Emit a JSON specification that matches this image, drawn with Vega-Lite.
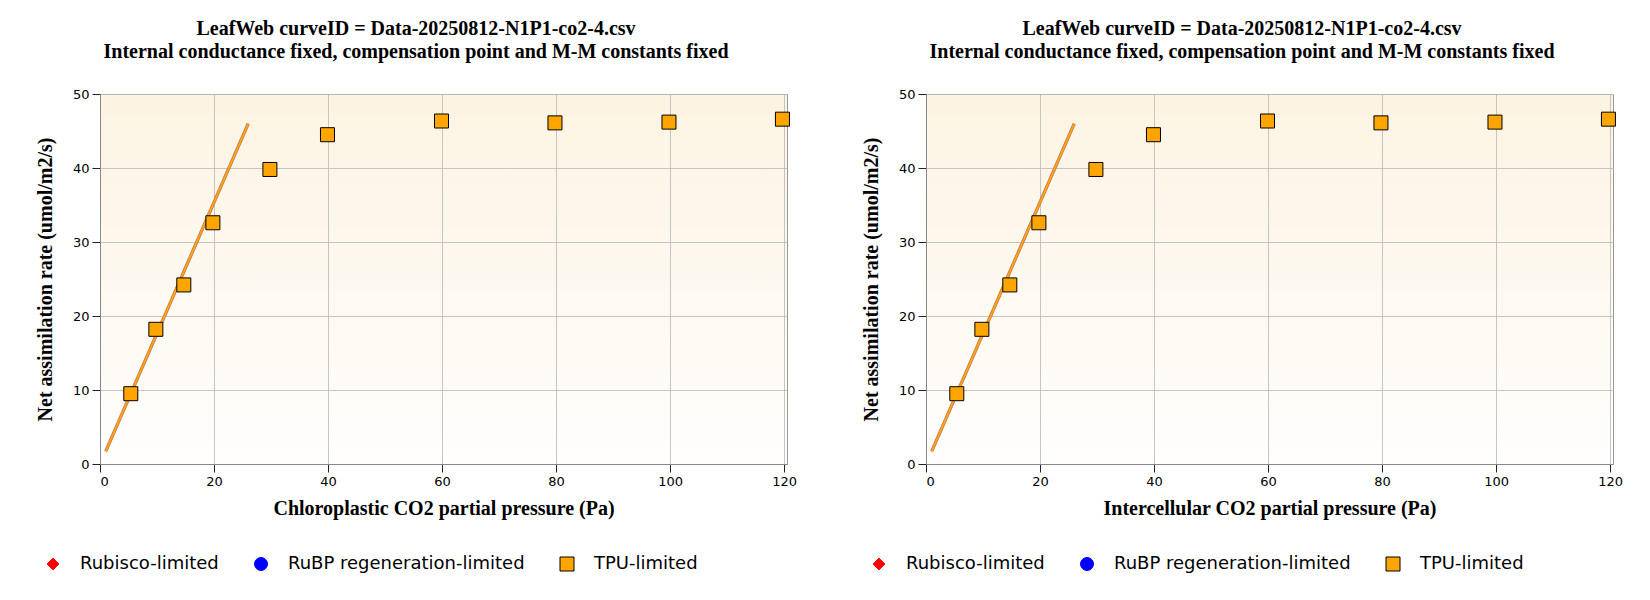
{
  "$schema": "https://vega.github.io/schema/vega-lite/v6.json",
  "background": "#ffffff",
  "padding": {"left": 34, "top": 18, "right": 5, "bottom": 5},
  "datasets": {
    "points": [
      {"ci": 5.4, "a": 9.5, "limit": "TPU-limited"},
      {"ci": 9.8, "a": 18.2, "limit": "TPU-limited"},
      {"ci": 14.7, "a": 24.2, "limit": "TPU-limited"},
      {"ci": 19.8, "a": 32.6, "limit": "TPU-limited"},
      {"ci": 29.8, "a": 39.8, "limit": "TPU-limited"},
      {"ci": 39.9, "a": 44.5, "limit": "TPU-limited"},
      {"ci": 59.9, "a": 46.35, "limit": "TPU-limited"},
      {"ci": 79.8, "a": 46.1, "limit": "TPU-limited"},
      {"ci": 99.8, "a": 46.2, "limit": "TPU-limited"},
      {"ci": 119.7, "a": 46.6, "limit": "TPU-limited"}
    ],
    "fit": [
      {"ci": 1, "a": 1.7},
      {"ci": 26, "a": 46}
    ]
  },
  "config": {
    "view": {
      "stroke": "#999999",
      "strokeWidth": 1,
      "fill": {
        "gradient": "linear", "x1": 0, "y1": 0, "x2": 0, "y2": 1,
        "stops": [{"offset": 0, "color": "#fcf3e2"}, {"offset": 1, "color": "#fffefd"}]
      }
    },
    "axis": {
      "labelFont": "DejaVu Sans",
      "labelFontSize": 13,
      "labelColor": "#000000",
      "labelPadding": 3,
      "titleFont": "Liberation Serif",
      "titleFontSize": 20,
      "titleFontWeight": "bold",
      "titleColor": "#000000",
      "tickColor": "#222222",
      "tickSize": 8,
      "domainColor": "#888888",
      "gridColor": "#bbbbbb",
      "gridOpacity": 0.85
    },
    "legend": {
      "labelFont": "DejaVu Sans",
      "labelFontSize": 18,
      "labelColor": "#000000",
      "labelLimit": 0,
      "labelOffset": 18,
      "columnPadding": 33,
      "symbolStrokeWidth": 1
    },
    "title": {
      "font": "Liberation Serif",
      "fontSize": 20,
      "fontWeight": "bold",
      "color": "#000000",
      "lineHeight": 23,
      "frame": "bounds",
      "anchor": "middle",
      "offset": 26
    }
  },
  "resolve": {
    "scale": {"color": "independent", "shape": "independent", "stroke": "independent", "size": "independent"}
  },
  "spacing": 62,
  "hconcat": [
    {
      "title": {"text": ["LeafWeb curveID = Data-20250812-N1P1-co2-4.csv", "Internal conductance fixed, compensation point and M-M constants fixed"]},
      "width": 687,
      "height": 370,
      "layer": [
        {
          "data": {"name": "fit"},
          "mark": {"type": "line", "color": "#b8704a", "strokeWidth": 3.2},
          "encoding": {
            "x": {"field": "ci", "type": "quantitative", "scale": {"domain": [0, 120.5], "nice": false}},
            "y": {"field": "a", "type": "quantitative", "scale": {"domain": [0, 50], "nice": false}}
          }
        },
        {
          "data": {"name": "fit"},
          "mark": {"type": "line", "color": "#ffa21a", "strokeWidth": 2},
          "encoding": {
            "x": {"field": "ci", "type": "quantitative", "title": "Chloroplastic CO2 partial pressure (Pa)",
              "axis": {"values": [0, 20, 40, 60, 80, 100, 120], "titlePadding": 10}},
            "y": {"field": "a", "type": "quantitative", "title": "Net assimilation rate (umol/m2/s)",
              "axis": {"values": [0, 10, 20, 30, 40, 50], "titlePadding": 17}}
          }
        },
        {
          "data": {"name": "points"},
          "mark": {"type": "point", "filled": true, "opacity": 1, "strokeWidth": 1},
          "encoding": {
            "x": {"field": "ci", "type": "quantitative"},
            "y": {"field": "a", "type": "quantitative"},
            "shape": {"field": "limit", "type": "nominal",
              "scale": {"domain": ["Rubisco-limited", "RuBP regeneration-limited", "TPU-limited"], "range": ["diamond", "circle", "square"]},
              "legend": {"title": null, "orient": "none", "direction": "horizontal", "legendX": -56, "legendY": 461}},
            "color": {"field": "limit", "type": "nominal",
              "scale": {"domain": ["Rubisco-limited", "RuBP regeneration-limited", "TPU-limited"], "range": ["#ff0000", "#0000ff", "#ffa500"]},
              "legend": {"title": null, "orient": "none", "direction": "horizontal", "legendX": -56, "legendY": 461}},
            "stroke": {"field": "limit", "type": "nominal",
              "scale": {"domain": ["Rubisco-limited", "RuBP regeneration-limited", "TPU-limited"], "range": ["#ff0000", "#0000ff", "#000000"]},
              "legend": {"title": null, "orient": "none", "direction": "horizontal", "legendX": -56, "legendY": 461}},
            "size": {"field": "limit", "type": "nominal",
              "scale": {"domain": ["Rubisco-limited", "RuBP regeneration-limited", "TPU-limited"], "range": [140, 196, 196]},
              "legend": {"title": null, "orient": "none", "direction": "horizontal", "legendX": -56, "legendY": 461}}
          }
        }
      ]
    },
    {
      "title": {"text": ["LeafWeb curveID = Data-20250812-N1P1-co2-4.csv", "Internal conductance fixed, compensation point and M-M constants fixed"]},
      "width": 687,
      "height": 370,
      "layer": [
        {
          "data": {"name": "fit"},
          "mark": {"type": "line", "color": "#b8704a", "strokeWidth": 3.2},
          "encoding": {
            "x": {"field": "ci", "type": "quantitative", "scale": {"domain": [0, 120.5], "nice": false}},
            "y": {"field": "a", "type": "quantitative", "scale": {"domain": [0, 50], "nice": false}}
          }
        },
        {
          "data": {"name": "fit"},
          "mark": {"type": "line", "color": "#ffa21a", "strokeWidth": 2},
          "encoding": {
            "x": {"field": "ci", "type": "quantitative", "title": "Intercellular CO2 partial pressure (Pa)",
              "axis": {"values": [0, 20, 40, 60, 80, 100, 120], "titlePadding": 10}},
            "y": {"field": "a", "type": "quantitative", "title": "Net assimilation rate (umol/m2/s)",
              "axis": {"values": [0, 10, 20, 30, 40, 50], "titlePadding": 17}}
          }
        },
        {
          "data": {"name": "points"},
          "mark": {"type": "point", "filled": true, "opacity": 1, "strokeWidth": 1},
          "encoding": {
            "x": {"field": "ci", "type": "quantitative"},
            "y": {"field": "a", "type": "quantitative"},
            "shape": {"field": "limit", "type": "nominal",
              "scale": {"domain": ["Rubisco-limited", "RuBP regeneration-limited", "TPU-limited"], "range": ["diamond", "circle", "square"]},
              "legend": {"title": null, "orient": "none", "direction": "horizontal", "legendX": -56, "legendY": 461}},
            "color": {"field": "limit", "type": "nominal",
              "scale": {"domain": ["Rubisco-limited", "RuBP regeneration-limited", "TPU-limited"], "range": ["#ff0000", "#0000ff", "#ffa500"]},
              "legend": {"title": null, "orient": "none", "direction": "horizontal", "legendX": -56, "legendY": 461}},
            "stroke": {"field": "limit", "type": "nominal",
              "scale": {"domain": ["Rubisco-limited", "RuBP regeneration-limited", "TPU-limited"], "range": ["#ff0000", "#0000ff", "#000000"]},
              "legend": {"title": null, "orient": "none", "direction": "horizontal", "legendX": -56, "legendY": 461}},
            "size": {"field": "limit", "type": "nominal",
              "scale": {"domain": ["Rubisco-limited", "RuBP regeneration-limited", "TPU-limited"], "range": [140, 196, 196]},
              "legend": {"title": null, "orient": "none", "direction": "horizontal", "legendX": -56, "legendY": 461}}
          }
        }
      ]
    }
  ]
}
